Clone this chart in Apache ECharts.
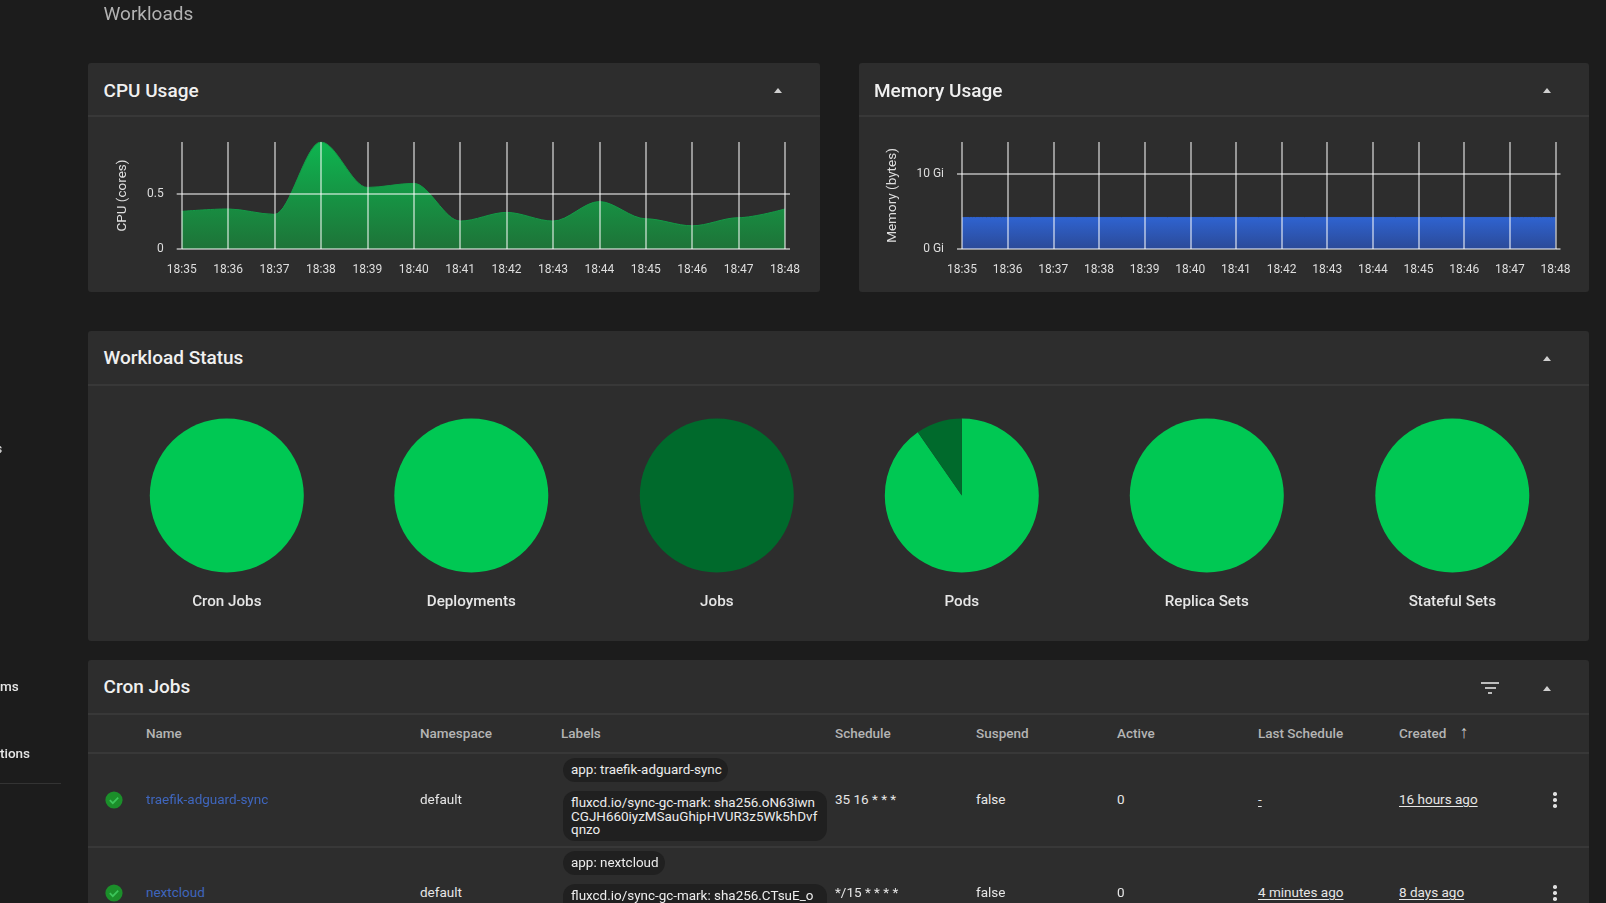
<!DOCTYPE html>
<html>
<head>
<meta charset="utf-8">
<title>Workloads</title>
<script src="https://cdn.jsdelivr.net/npm/echarts@6/dist/echarts.min.js"></script>
<style>
html,body{margin:0;padding:0;width:1606px;height:903px;overflow:hidden;background:#1c1c1c;font-family:Roboto,sans-serif;color:#e4e4e4}
#page,#chart{filter:blur(0.45px)}
.panel{position:absolute;background:#2d2d2d;border-radius:3px}
.rule{position:absolute;height:2px;background:#383838}
.t{position:absolute;white-space:nowrap;transform:translateY(-50%)}
.title{font-size:19px;font-weight:500;color:#f0f0f0}
.head{font-size:13.5px;font-weight:500;color:#b4b4b4}
.cell{font-size:13.5px;color:#e6e6e6}
.link{font-size:13.5px;color:#3f66bd}
.u{text-decoration:underline;text-underline-offset:2px}
.chip{position:absolute;background:#202020;border-radius:12px}
.chipt{position:absolute;font-size:13.45px;line-height:13.5px;color:#ececec;white-space:pre}
.tri{position:absolute;width:0;height:0;border-left:4.5px solid transparent;border-right:4.5px solid transparent;border-bottom:5px solid #cfcfcf}
.dot{position:absolute;width:3.5px;height:3.5px;border-radius:50%;background:#e0e0e0}
.bar{position:absolute;height:2px;background:#bdbdbd}
#chart{position:absolute;left:0;top:0;width:1606px;height:903px;pointer-events:none}
</style>
</head>
<body>
<div id="page"></div>
<div id="chart"></div>
<script>
// ---- data ----
const timeLabels = ['18:35','18:36','18:37','18:38','18:39','18:40','18:41','18:42','18:43','18:44','18:45','18:46','18:47','18:48'];
const cpuValues = [0.341,0.363,0.314,0.97,0.558,0.595,0.253,0.332,0.253,0.43,0.274,0.21,0.284,0.363];
const memoryGi = [4.2,4.2,4.2,4.2,4.2,4.2,4.2,4.2,4.2,4.2,4.2,4.2,4.2,4.2];
const cpuTicks = [0,0.5];
const memoryTicks = [0,10];
const pieNames = ['Cron Jobs','Deployments','Jobs','Pods','Replica Sets','Stateful Sets'];
const pieRunning = [2,8,0,28,8,3];
const pieOther = [0,0,2,3,0,0];
const tableHeaders = ['Name','Namespace','Labels','Schedule','Suspend','Active','Last Schedule','Created'];
const jobNames = ['traefik-adguard-sync','nextcloud'];
const jobNamespaces = ['default','default'];
const jobSchedules = ['35 16 * * *','*/15 * * * *'];
const jobSuspend = ['false','false'];
const jobActive = ['0','0'];
const jobLastSchedule = ['-','4 minutes ago'];
const jobCreated = ['16 hours ago','8 days ago'];
const jobLabelA = ['app: traefik-adguard-sync','app: nextcloud'];
const jobLabelB = ['fluxcd.io/sync-gc-mark: sha256.oN63iwn\nCGJH660iyzMSauGhipHVUR3z5Wk5hDvf\nqnzo','fluxcd.io/sync-gc-mark: sha256.CTsuE_o'];

// ---- dashboard chrome (HTML) ----
const page = document.getElementById('page');
function box(cls, css, text){
  const d = document.createElement('div');
  d.className = cls;
  d.style.cssText = css;
  if (text !== undefined) d.textContent = text;
  page.appendChild(d);
  return d;
}
function text(cls, x, cy, s, extra){ return box('t '+cls, 'left:'+x+'px;top:'+cy+'px;'+(extra||''), s); }
function panel(x,y,w,h,title,ruleY,titleY,arrowY){
  box('panel','left:'+x+'px;top:'+y+'px;width:'+w+'px;height:'+h+'px');
  box('rule','left:'+x+'px;top:'+ruleY+'px;width:'+w+'px');
  text('title',x+15.5,titleY,title);
  const ax = x === 88 && w < 800 ? 778 : 1547.5;
  box('tri','left:'+(ax-4.5)+'px;top:'+arrowY+'px');
}
text('title',103.5,13,'Workloads','color:#b2b2b2;font-weight:400;');
panel(88,63,732,229,'CPU Usage',115,90,88);
panel(858.5,63,730.5,229,'Memory Usage',115,90,88);
panel(88,331,1501,310,'Workload Status',384,357,356);
panel(88,660,1501,260,'Cron Jobs',713,686,686);
text('cell',-4.5,448,'s','font-size:13px;');
text('cell',0,686,'ms','font-weight:500;');
text('cell',0,753,'tions','font-weight:500;');
box('rule','left:0;top:783px;width:61px;height:1px;background:#333');
// filter icon
box('bar','left:1481px;top:682px;width:18px');
box('bar','left:1484.5px;top:687px;width:11px');
box('bar','left:1488px;top:692px;width:4px');
// table
const colX = [146,420,561,835,976,1117,1258,1399];
tableHeaders.forEach((h,i)=>text('head',colX[i],733,h));
text('head',1459.5,732,'↑','font-size:18px;color:#c8c8c8;font-weight:700;');
box('rule','left:88px;top:752px;width:1501px');
box('rule','left:88px;top:846px;width:1501px');
const rowY = [799,892];
const chipA = [[563,758,165,24],[563,851,102,24]];
const chipB = [[563,791,264,50],[563,884,264,40]];
const chipBT = [796,889];
jobNames.forEach((n,i)=>{
  const y = rowY[i];
  const s = document.createElementNS('http://www.w3.org/2000/svg','svg');
  s.setAttribute('width','20');s.setAttribute('height','20');s.setAttribute('viewBox','0 0 20 20');
  s.style.cssText='position:absolute;left:103.5px;top:'+(y-9)+'px';
  s.innerHTML='<circle cx="10" cy="10" r="8.6" fill="#1b8f2a"/><path d="M5.8 10.2l3 3 5.4-5.6" fill="none" stroke="#3cc65a" stroke-width="1.7"/>';
  page.appendChild(s);
  text('link',146,y,n);
  text('cell',420,y,jobNamespaces[i]);
  const a = chipA[i], b = chipB[i];
  box('chip','left:'+a[0]+'px;top:'+a[1]+'px;width:'+a[2]+'px;height:'+a[3]+'px');
  box('chipt','left:571px;top:'+(a[1]+5)+'px',jobLabelA[i]);
  box('chip','left:'+b[0]+'px;top:'+b[1]+'px;width:'+b[2]+'px;height:'+b[3]+'px');
  box('chipt','left:571px;top:'+chipBT[i]+'px',jobLabelB[i]);
  text('cell',835,y,jobSchedules[i]);
  text('cell',976,y,jobSuspend[i]);
  text('cell',1117,y,jobActive[i]);
  text('cell u',1258,y,jobLastSchedule[i]);
  text('cell u',1399,y,jobCreated[i]);
  [-6,0,6].forEach(o=>box('dot','left:1553.2px;top:'+(y+1+o-1.7)+'px'));
});

// ---- charts (ECharts) ----
const lineCol = 'rgba(255,255,255,0.5)';
const labelCol = '#dedede';
const font = 'Roboto';
function xAxis(gi){
  return {type:'category',gridIndex:gi,data:timeLabels,boundaryGap:false,z:5,
    axisLine:{show:false},axisTick:{show:false},
    splitLine:{show:true,lineStyle:{color:lineCol,width:2}},
    axisLabel:{show:true,interval:0,color:labelCol,fontFamily:font,fontSize:12,margin:14.5}};
}
function yAxes(gi,max,ticks,name,gap,fmt){
  const base = {type:'value',gridIndex:gi,min:0,max:max,z:5,axisLine:{show:false}};
  return [
    Object.assign({},base,{position:'left',name:name,nameLocation:'middle',nameGap:gap,nameRotate:90,
      nameTextStyle:{color:labelCol,fontFamily:font,fontSize:13.5},
      axisTick:{show:true,length:5,customValues:ticks,lineStyle:{color:lineCol,width:2}},
      splitLine:{show:true,lineStyle:{color:lineCol,width:2}},
      axisLabel:{show:true,customValues:ticks,formatter:fmt,color:labelCol,fontFamily:font,fontSize:12,margin:18}}),
    Object.assign({},base,{position:'right',
      axisTick:{show:true,length:5,customValues:ticks,lineStyle:{color:lineCol,width:2}},
      splitLine:{show:false},axisLabel:{show:false}})
  ];
}
function areaSeries(gi,name,data,top,bottom,edge){
  return {type:'line',name:name,xAxisIndex:gi,yAxisIndex:gi*2,data:data,smooth:0.33,smoothMonotone:'x',
    symbol:'none',silent:true,animation:false,z:2,
    lineStyle:{width:1,color:edge},
    areaStyle:{opacity:1,color:new echarts.graphic.LinearGradient(0,0,0,1,[{offset:0,color:top},{offset:1,color:bottom}])}};
}
const pieX = [226.8,471.3,716.8,961.8,1206.8,1452.3];
const pieSeries = pieNames.map((n,i)=>({
  type:'pie',name:n,center:[pieX[i],495.5],radius:[0,77],startAngle:90,clockwise:true,
  silent:true,animation:false,label:{show:false},labelLine:{show:false},
  itemStyle:{borderWidth:0},
  data:[{name:'Running',value:pieRunning[i],itemStyle:{color:'#00c853'}},
        {name:'Other',value:pieOther[i],itemStyle:{color:'#006a2c'}}]
}));
const chart = echarts.init(document.getElementById('chart'),null,{width:1606,height:903});
chart.setOption({
  backgroundColor:'transparent',
  animation:false,
  tooltip:{show:false},
  title:pieNames.map((n,i)=>({text:n,left:pieX[i],top:594.5,textAlign:'center',padding:0,
    textStyle:{color:'#e6e6e6',fontFamily:font,fontSize:15.2,fontWeight:500}})),
  grid:[
    {left:181.7,width:603.3,top:142,height:107,containLabel:false},
    {left:962,width:593.5,top:142,height:107,containLabel:false}
  ],
  xAxis:[xAxis(0),xAxis(1)],
  yAxis:[
    ...yAxes(0,0.97,cpuTicks,'CPU (cores)',52,v=>String(v)),
    ...yAxes(1,14.25,memoryTicks,'Memory (bytes)',62,v=>v+' Gi')
  ],
  series:[
    areaSeries(0,'CPU',cpuValues,'#0eb550','#1e7338','#149a47'),
    areaSeries(1,'Memory',memoryGi,'#2f63d0','#2b4a98','#2f63d0'),
    ...pieSeries
  ]
});
</script>
</body>
</html>
